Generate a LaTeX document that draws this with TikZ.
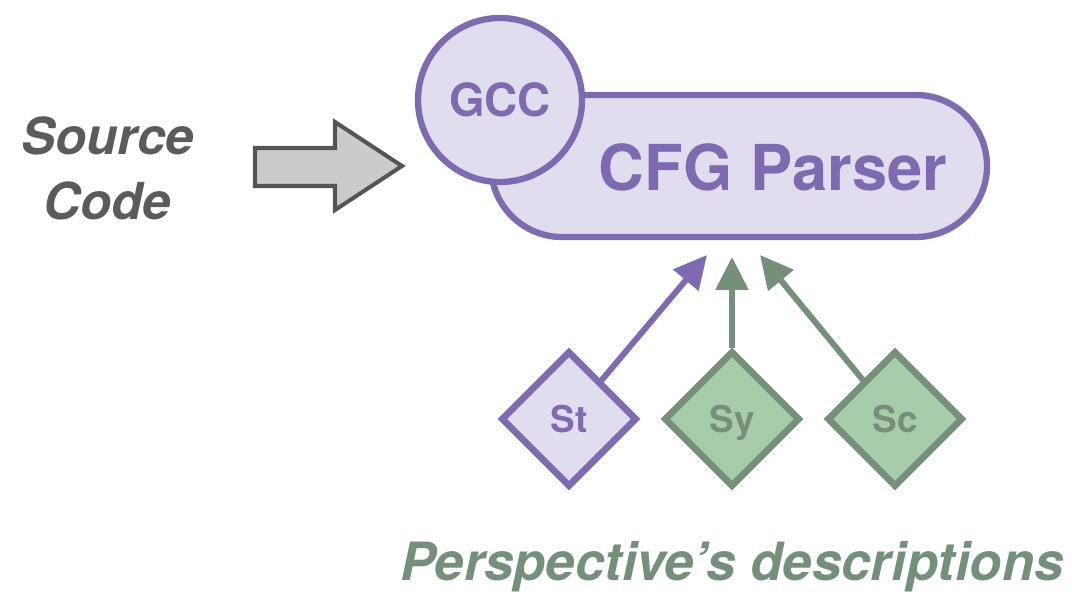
\documentclass[tikz,border=0pt]{standalone}
\usepackage{fontspec}
\setmainfont{TeX Gyre Heros}
\usepackage{xcolor}
\usepackage{tikz}
\usetikzlibrary{arrows.meta,shapes.geometric}
\definecolor{purpleacc}{HTML}{7E6AB1}
\definecolor{purplebg}{HTML}{E1DDEE}
\definecolor{greenacc}{HTML}{74907A}
\definecolor{greenbg}{HTML}{A8CBA9}
\definecolor{graytext}{HTML}{5B5B5B}
\definecolor{grayfill}{HTML}{CBCBCB}
\definecolor{grayline}{HTML}{555555}
\tikzset{persp/.style={diamond,aspect=1,minimum width=2.72cm,minimum height=2.72cm,inner sep=0pt,line width=3.8pt,
  text height=15pt,text depth=0pt,font=\bfseries\fontsize{21}{25}\selectfont},
purp/.style={draw=purpleacc,fill=purplebg,text=purpleacc},
grn/.style={draw=greenacc,fill=greenbg,text=greenacc},
link/.style={-{Triangle[length=6.6mm,width=6.4mm]},line width=3.4pt}}

\begin{document}
\begin{tikzpicture}
\useasboundingbox (0,0) rectangle (21.44,-11.84);
% input side
\node[text=graytext,align=center,font=\bfseries\itshape\fontsize{29}{37}\selectfont] (src) at (2.15,-3.36) {Source\\Code};
\draw[draw=grayline,fill=grayfill,line width=2.3pt,line join=miter] (5.1,-2.96)--(6.7,-2.96)--(6.7,-2.44)--(8.04,-3.32)--(6.7,-4.2)--(6.7,-3.72)--(5.1,-3.72)--cycle;
% parser
\node[purp,rectangle,rounded corners=1.42cm,minimum width=9.92cm,minimum height=2.84cm,line width=3.6pt] (parser) at (14.78,-3.32) {};
\node[text=purpleacc,font=\bfseries\fontsize{36}{43}\selectfont] (cfg) at (15.46,-3.35) {CFG Parser};
\node[purp,circle,minimum size=3.28cm,inner sep=0pt,line width=3.6pt,font=\bfseries\fontsize{26}{31}\selectfont] (gcc) at (10,-2) {GCC};
% perspectives
\node[persp,purp] (st) at (11.38,-8.38) {St};
\node[persp,grn] (sy) at (14.64,-8.38) {Sy};
\node[persp,grn] (sc) at (17.9,-8.38) {Sc};
\coordinate (tSt) at (14.14,-5.1);
\coordinate (tSy) at (14.64,-5.14);
\coordinate (tSc) at (15.2,-5.1);
\draw[link,purpleacc] (st) -- (tSt);
\draw[link,greenacc] (sy) -- (tSy);
\draw[link,greenacc] (sc) -- (tSc);
\node[anchor=base,text=greenacc,font=\bfseries\itshape\fontsize{30}{36}\selectfont] (desc) at (14.64,-11.6) {Perspective’s descriptions};
\end{tikzpicture}
\end{document}
